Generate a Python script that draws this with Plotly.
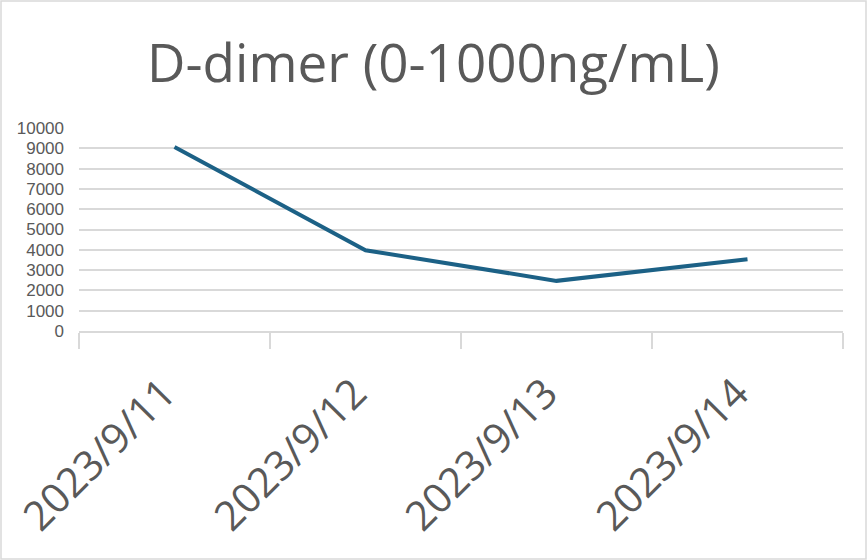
import plotly.graph_objects as go

dates = ["2023/9/11", "2023/9/12", "2023/9/13", "2023/9/14"]
values = [9060, 3980, 2470, 3530]
title_text = "D-dimer (0-1000ng/mL)"

W, H = 867, 560
ML, MR, MT, MB = 79, 24, 128, 229
PW, PH = W - ML - MR, H - MT - MB

fig = go.Figure(go.Scatter(
    x=dates, y=values, mode="lines",
    line=dict(color="#1c6186", width=4),
    hoverinfo="x+y",
))

grey = "#595959"
gl = "#d9d9d9"

fig.update_layout(
    width=W, height=H,
    margin=dict(l=ML, r=MR, t=MT, b=MB, autoexpand=False),
    paper_bgcolor="white", plot_bgcolor="white",
    showlegend=False,
    title=dict(text=title_text, x=0.5, xref="container", xanchor="center",
               y=1 - 63 / H, yref="container", yanchor="middle",
               font=dict(family="Open Sans", size=53, color=grey)),
    xaxis=dict(type="category", range=[-0.5, 3.5], showgrid=False,
               showline=True, linecolor=gl, linewidth=1.5,
               ticks="outside", tickson="boundaries", ticklen=16,
               tickcolor=gl, tickwidth=1.5, tickangle=-45,
               tickfont=dict(family="Open Sans", size=41, color=grey),
               ticklabelstandoff=20, ticklabelshift=-11, automargin=False),
    yaxis=dict(range=[0, 10000], dtick=1000, tickformat="d",
               showgrid=True, gridcolor=gl,
               gridwidth=1.5, zeroline=False, showline=False,
               tickfont=dict(family="Liberation Sans", size=17, color=grey),
               ticklabelstandoff=14, automargin=False),
    shapes=[dict(type="rect", xref="paper", yref="paper",
                 x0=(1 - ML) / PW, x1=(866 - ML) / PW,
                 y0=(MT + PH - 559) / PH, y1=(MT + PH - 1) / PH,
                 line=dict(color=gl, width=1.5), fillcolor="rgba(0,0,0,0)",
                 layer="below")],
)

fig.write_html("out.html", config={"displayModeBar": False},
               post_script="document.body.style.margin='0';")
